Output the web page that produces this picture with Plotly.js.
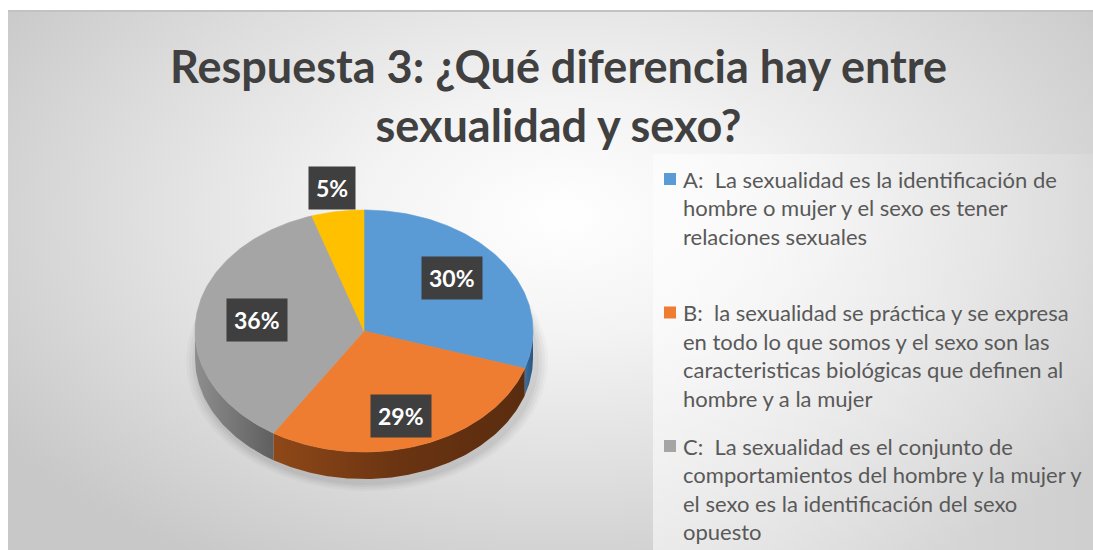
<!DOCTYPE html>
<html>
<head>
<meta charset="utf-8">
<script src="https://cdn.plot.ly/plotly-3.0.1.min.js"></script>
<style>
  html, body { margin:0; padding:0; background:#ffffff; width:1093px; height:550px; overflow:hidden; }
  #bg { position:absolute; left:8px; top:10px; width:1085px; height:540px;
        background: radial-gradient(ellipse 62% 75% at 51% 38%, #ffffff 0%, #f3f3f3 30%, #dedede 65%, #c8c8c8 100%);
        border-top:2px solid #c2c2c2; box-sizing:border-box; }
  #legbox { position:absolute; left:653px; top:154px; width:440px; height:396px;
        background: linear-gradient(to right, rgba(255,255,255,0.55) 0%, rgba(255,255,255,0.3) 55%, rgba(255,255,255,0.12) 100%); }
  #chart { position:absolute; left:0; top:0; width:1093px; height:550px; }
</style>
</head>
<body>
<div id="bg"></div>
<div id="legbox"></div>
<div id="chart"></div>
<script>
// ---------- data ----------
const categories = ['A', 'B', 'C', 'D'];
const values = [30, 29, 36, 5];
const legendLabels = [
  ['A:  La sexualidad es la identificación de', 'hombre o mujer y el sexo es tener', 'relaciones sexuales'],
  ['B:  la sexualidad se práctica y se expresa', 'en todo lo que somos y el sexo son las', 'caracteristicas biológicas que definen al', 'hombre y a la mujer'],
  ['C:  La sexualidad es el conjunto de', 'comportamientos del hombre y la mujer y', 'el sexo es la identificación del sexo', 'opuesto'],
  ['D:']
];
const titleText = 'Respuesta 3: ¿Qué diferencia hay entre<br>sexualidad y sexo?';

// ---------- styling / geometry ----------
const W = 1093, H = 550;
const topColors  = ['#5B9BD5', '#EE7D31', '#A5A5A5', '#FFC000'];
const sideScales = [
  [[0, '#3d6f9e'], [1, '#2b5580']],
  [[0, '#8f4818'], [0.5, '#6a3412'], [1, '#5a2c0f']],
  [[0, '#8e8e8e'], [1, '#5f5f5f']],
  [[0, '#b38700'], [1, '#8a6800']]
];
const cx = 364, cy = 331, rx = 169, ry = 121, depth = 27;
const rad = d => d * Math.PI / 180;
const px = t => cx + rx * Math.sin(rad(t));
const py = t => cy - ry * Math.cos(rad(t));

const total = values.reduce((a, b) => a + b, 0);
const starts = [], ends = [];
let acc = 0;
values.forEach(v => { starts.push(acc / total * 360); acc += v; ends.push(acc / total * 360); });

const traces = [];
// soft shadow
[[12, 9, 0.025], [9, 7, 0.03], [6, 5, 0.035], [3, 3, 0.04]].forEach(([ex, ey, op]) => {
  const xs = [], ys = [];
  for (let t = 0; t <= 360; t += 2) {
    xs.push(cx + 3 + (rx + ex) * Math.sin(rad(t)));
    ys.push(cy + depth + 3 - (ry + ey) * Math.cos(rad(t)));
  }
  traces.push({type:'scatter', mode:'lines', x:xs, y:ys, fill:'toself',
    fillcolor:'rgba(0,0,0,' + op + ')', line:{width:0}, hoverinfo:'skip', showlegend:false});
});
// side walls (front half only)
values.forEach((v, i) => {
  const s = Math.max(starts[i], 90), e = Math.min(ends[i], 270);
  if (e <= s) return;
  const xs = [], ys = [];
  const n = Math.max(2, Math.ceil(e - s));
  for (let k = 0; k <= n; k++) { const t = s + (e - s) * k / n; xs.push(px(t)); ys.push(py(t)); }
  for (let k = n; k >= 0; k--) { const t = s + (e - s) * k / n; xs.push(px(t)); ys.push(py(t) + depth); }
  traces.push({type:'scatter', mode:'lines', x:xs, y:ys, fill:'toself',
    fillgradient:{type:'horizontal', colorscale: sideScales[i]},
    line:{width:0}, hoverinfo:'skip', showlegend:false});
});
// top faces
values.forEach((v, i) => {
  const xs = [cx], ys = [cy];
  const s = starts[i], e = ends[i];
  const n = Math.max(2, Math.ceil(e - s));
  for (let k = 0; k <= n; k++) { const t = s + (e - s) * k / n; xs.push(px(t)); ys.push(py(t)); }
  xs.push(cx); ys.push(cy);
  traces.push({type:'scatter', mode:'lines', x:xs, y:ys, fill:'toself',
    fillcolor: topColors[i], line:{width:0.6, color: topColors[i]},
    name: categories[i], hoverinfo:'skip', showlegend:false});
});

// data labels
const annotations = [];
values.forEach((v, i) => {
  const mid = (starts[i] + ends[i]) / 2;
  const outside = v / total < 0.1;
  const kx = outside ? 1.22 : 0.64, ky = outside ? 1.2 : 0.75;
  const x = cx + rx * kx * Math.sin(rad(mid));
  const y = cy - ry * ky * Math.cos(rad(mid));
  const txt = '<b>' + Math.round(v / total * 100) + '%</b>';
  annotations.push({x: x, y: y, xref:'x', yref:'y', text: txt, showarrow:false,
    font:{family:'Lato', size:23, color:'#ffffff'}, bgcolor:'#3f3f3f', borderpad:7});
});

// legend
const shapes = [];
const legX = 664, legTextX = 681, legTop = 179, slotH = 133.5, lineH = 28.5;
legendLabels.forEach((lines, i) => {
  const y0 = legTop + i * slotH;
  if (y0 > H) return;
  shapes.push({type:'rect', xref:'x', yref:'y', x0: legX, x1: legX + 12, y0: y0 - 6, y1: y0 + 6,
    fillcolor: topColors[i], line:{width:0}});
  lines.forEach((ln, j) => {
    annotations.push({x: legTextX, y: y0 + j * lineH, xref:'x', yref:'y', text: ln, showarrow:false,
      xanchor:'left', yanchor:'middle', font:{family:'Lato', size:22, color:'#595959'}});
  });
});

const layout = {
  width: W, height: H,
  margin:{l:0, r:0, t:0, b:0},
  paper_bgcolor:'rgba(0,0,0,0)', plot_bgcolor:'rgba(0,0,0,0)',
  title:{text: titleText, x: 0.511, xanchor:'center', xref:'paper', y: 1 - 83 / H, yanchor:'top', yref:'container',
    font:{family:'Lato', size:45, color:'#404040', weight:'bold'}},
  xaxis:{range:[0, W], visible:false, fixedrange:true},
  yaxis:{range:[H, 0], visible:false, fixedrange:true},
  showlegend:false,
  shapes: shapes,
  annotations: annotations
};
Plotly.newPlot('chart', traces, layout, {displayModeBar:false, staticPlot:true});
</script>
</body>
</html>
